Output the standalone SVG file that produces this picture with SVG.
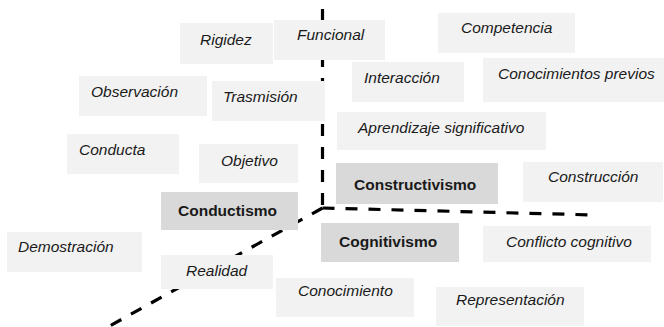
<svg xmlns="http://www.w3.org/2000/svg" width="664" height="327" viewBox="0 0 664 327">
<style>
.b{fill:#f2f2f2}
.d{fill:#d9d9d9}
text{font-family:"Liberation Sans",Arial,sans-serif;font-size:15.5px;fill:#1a1a1a}
.i{font-style:italic}
.k{font-weight:bold}
.ln{stroke:#000;stroke-width:3.2;stroke-dasharray:12 11;fill:none}
</style>
<rect width="664" height="327" fill="#fff"/>
<g id="connectors">
<line class="ln" x1="322.5" y1="9" x2="322.5" y2="208"/>
<line class="ln" x1="322.5" y1="208" x2="106" y2="328"/>
<line class="ln" x1="322.5" y1="208" x2="595" y2="215"/>
</g>
<g id="rigidez"><rect class="b" x="180" y="23" width="93" height="41"/><text class="i" x="200" y="45">Rigidez</text></g>
<g id="funcional"><rect class="b" x="274" y="20" width="111" height="40"/><text class="i" x="297" y="40">Funcional</text></g>
<g id="competencia"><rect class="b" x="438" y="13" width="137" height="40"/><text class="i" x="461" y="33">Competencia</text></g>
<g id="observacion"><rect class="b" x="79" y="76" width="128" height="40"/><text class="i" x="91" y="97">Observación</text></g>
<g id="trasmision"><rect class="b" x="212" y="81" width="113" height="40"/><text class="i" x="223" y="102">Trasmisión</text></g>
<g id="interaccion"><rect class="b" x="352" y="62" width="112" height="40"/><text class="i" x="364" y="83">Interacción</text></g>
<g id="conocimientos-previos"><rect class="b" x="483" y="58" width="181" height="44"/><text class="i" x="498" y="79">Conocimientos previos</text></g>
<g id="aprendizaje"><rect class="b" x="337" y="112" width="209" height="38"/><text class="i" x="358" y="133">Aprendizaje significativo</text></g>
<g id="conducta"><rect class="b" x="67" y="134" width="112" height="40"/><text class="i" x="79" y="155">Conducta</text></g>
<g id="objetivo"><rect class="b" x="199" y="144" width="99" height="39"/><text class="i" x="221" y="166">Objetivo</text></g>
<g id="constructivismo"><rect class="d" x="336" y="163" width="162" height="41"/><text class="k" x="354" y="190">Constructivismo</text></g>
<g id="construccion"><rect class="b" x="523" y="162" width="140" height="40"/><text class="i" x="548" y="182">Construcción</text></g>
<g id="conductismo"><rect class="d" x="161" y="192" width="137" height="38"/><text class="k" x="178" y="216">Conductismo</text></g>
<g id="demostracion"><rect class="b" x="7" y="232" width="135" height="40"/><text class="i" x="18" y="252">Demostración</text></g>
<g id="cognitivismo"><rect class="d" x="321" y="223" width="138" height="39"/><text class="k" x="339" y="247">Cognitivismo</text></g>
<g id="conflicto"><rect class="b" x="483" y="226" width="168" height="36"/><text class="i" x="506" y="247">Conflicto cognitivo</text></g>
<g id="realidad"><rect class="b" x="161" y="255" width="112" height="34"/><text class="i" x="186" y="276">Realidad</text></g>
<g id="conocimiento"><rect class="b" x="276" y="278" width="138" height="39"/><text class="i" x="298" y="296">Conocimiento</text></g>
<g id="representacion"><rect class="b" x="436" y="287" width="148" height="39"/><text class="i" x="456" y="305">Representación</text></g>
</svg>
